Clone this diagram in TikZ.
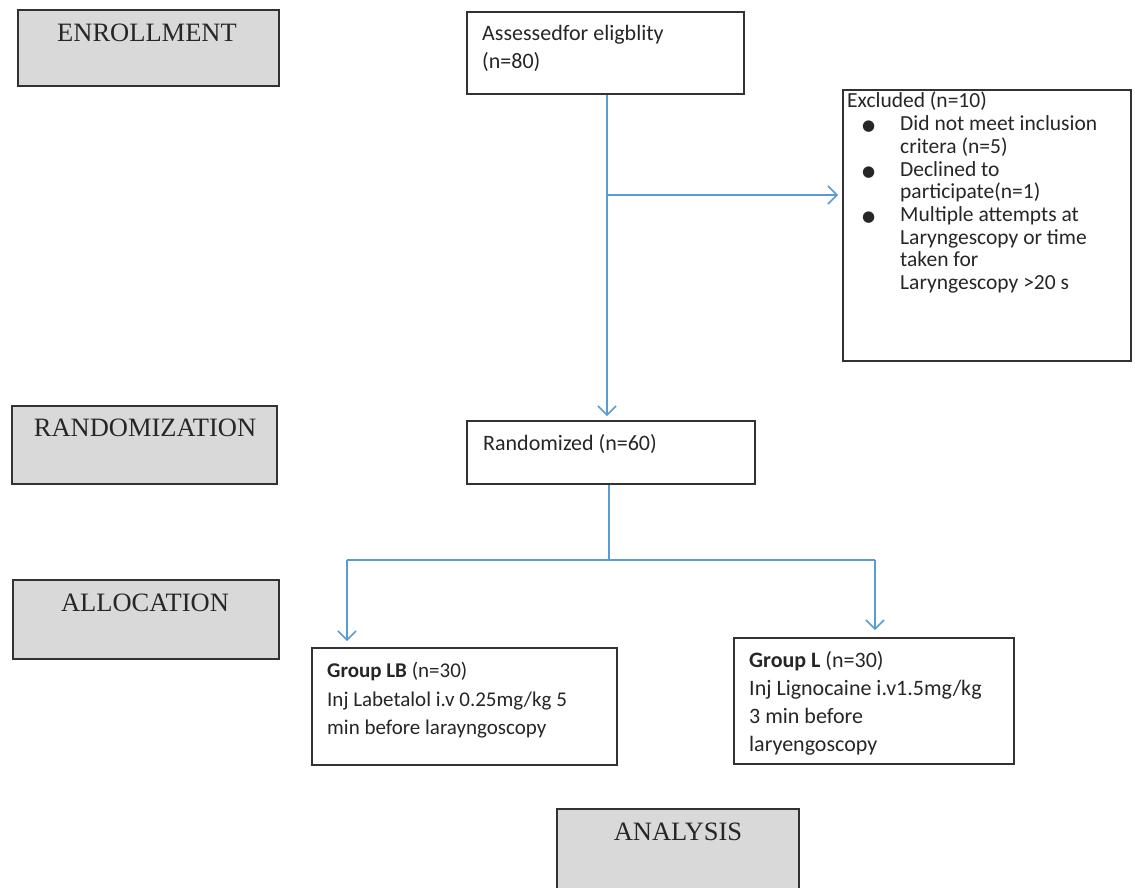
\documentclass[tikz,border=0pt]{standalone}
\usepackage{fontspec}
\setmainfont{Carlito}
\newfontfamily\labfont{Liberation Serif}
\newfontfamily\symfont{DejaVu Sans}
\usetikzlibrary{arrows.meta}
\definecolor{arrowblue}{RGB}{91,155,213}
\definecolor{boxgray}{RGB}{217,217,217}
\definecolor{edgegray}{RGB}{50,50,50}
\newcommand{\blt}{\makebox[53pt][l]{\hspace*{15pt}{\symfont\fontsize{15}{15}\selectfont ●}}}
\begin{document}
\begin{tikzpicture}[x=1pt,y=-1pt,
  phase/.style={draw=edgegray, line width=2pt, fill=boxgray, anchor=north west, inner sep=0pt},
  stepbox/.style={draw=edgegray, line width=1.5pt, fill=white, anchor=north west, inner sep=0pt},
  phasetext/.style={font=\labfont\fontsize{26.5}{30}\selectfont, inner sep=0pt, text=black!85},
  bodytext/.style={font=\fontsize{22}{28}\selectfont, align=left, anchor=north west, inner sep=0pt, text=black!85},
  flow/.style={draw=arrowblue, line width=1.5pt},
  arr/.style={flow, -{Straight Barb[length=9pt,width=18pt,line width=1.5pt]}}]
\useasboundingbox (0,0) rectangle (1135,887);

% phase boxes
\node[phase, minimum width=261pt, minimum height=76pt] (enr) at (17,9) {};
\node[phasetext] (enrT) at (147,33) {ENROLLMENT};
\node[phase, minimum width=265pt, minimum height=78pt] (rnd) at (11,405) {};
\node[phasetext] (rndT) at (145,428) {RANDOMIZATION};
\node[phase, minimum width=266pt, minimum height=79pt] (alc) at (12,579) {};
\node[phasetext] (alcT) at (145,603) {ALLOCATION};
\node[phase, minimum width=242pt, minimum height=82pt] (ana) at (556,808) {};
\node[phasetext] (anaT) at (678,832) {ANALYSIS};

% flow boxes
\node[stepbox, minimum width=277pt, minimum height=82pt] (assess) at (466,11) {};
\node[bodytext] (assessT) at (482,25) {Assessedfor eligblity\\(n=80)};

\node[stepbox, minimum width=288pt, minimum height=271pt] (excl) at (842,89) {};
\node[bodytext, font=\fontsize{21.5}{22.7}\selectfont] (exclT) at (847,92) {Excluded (n=10)\\
\blt Did not meet inclusion\\
\hspace*{53pt}critera (n=5)\\
\blt Declined to\\
\hspace*{53pt}participate(n=1)\\
\blt Multiple attempts at\\
\hspace*{53pt}Laryngescopy or time\\
\hspace*{53pt}taken for\\
\hspace*{53pt}Laryngescopy >20 s};

\node[stepbox, minimum width=288pt, minimum height=63pt] (rand) at (466,420) {};
\node[bodytext] (randT) at (483,434) {Randomized (n=60)};

\node[stepbox, minimum width=305pt, minimum height=117pt] (lb) at (311,647) {};
\node[bodytext, font=\fontsize{21}{28.5}\selectfont] (lbT) at (327,662) {\textbf{Group LB} (n=30)\\Inj Labetalol i.v 0.25mg/kg 5\\min before larayngoscopy};

\node[stepbox, minimum width=280pt, minimum height=126pt] (gl) at (733,637) {};
\node[bodytext] (glT) at (749,651) {\textbf{Group L} (n=30)\\Inj Lignocaine i.v1.5mg/kg\\3 min before\\laryengoscopy};

% connectors
\coordinate (spine) at (607,0);
\coordinate (br) at (607,195);
\coordinate (sp) at (609,560);
\coordinate (lx) at (347,560);
\coordinate (rx) at (875,560);
\draw[arr, shorten >=4pt] (assess.south -| spine) -- (rand.north -| spine);
\draw[arr, shorten >=4pt] (br) -- (br -| excl.west);
\draw[flow] (rand.south -| sp) -- (sp);
\draw[flow] (lx) -- (rx);
\draw[arr, shorten >=6pt] (lx) -- (lx |- lb.north);
\draw[arr, shorten >=7pt] (rx) -- (rx |- gl.north);
\end{tikzpicture}
\end{document}
